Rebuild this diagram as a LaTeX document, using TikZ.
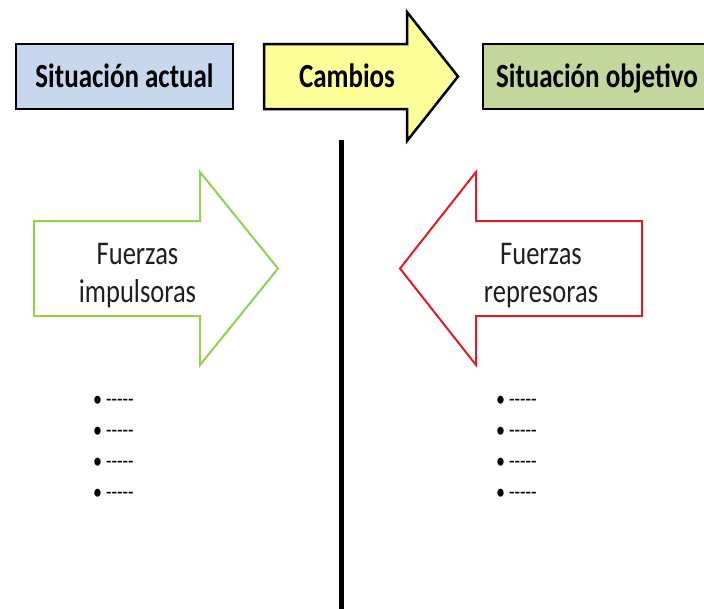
\documentclass[tikz,border=0pt]{standalone}
\usepackage{fontspec}
\usepackage{graphicx}
\setmainfont{Carlito}
\definecolor{actualfill}{HTML}{C6D7EE}
\definecolor{cambiosfill}{HTML}{FFFF99}
\definecolor{objfill}{HTML}{C3D69B}
\definecolor{impgreen}{HTML}{92D050}
\definecolor{repred}{HTML}{DD1C24}
\newcommand{\tallbox}[1]{\scalebox{1}[1.25]{#1}}
\tikzset{
  topbox/.style={draw=black, line width=2.5pt, line join=miter},
  toplabel/.style={font=\fontsize{27}{30}\selectfont\bfseries, anchor=base, inner sep=0pt},
  forcearrow/.style={line width=2pt, line join=miter, fill=white},
  forcelabel/.style={font=\fontsize{26.5}{30.4}\selectfont, inner sep=0pt, text=black!88},
  bulletrow/.style={font=\fontsize{18}{20}\selectfont, anchor=west, inner sep=0pt},
}
\begin{document}
\begin{tikzpicture}[x=1pt,y=-1pt]
\useasboundingbox (0,0) rectangle (704,608);
\begin{scope}
\clip (0,0) rectangle (704,608);
% top row
\draw[topbox, fill=actualfill] (16,44) rectangle (233,109);
\draw[topbox, fill=cambiosfill] (264,44) -- (407,44) -- (407,12) -- (458,76.5) -- (407,141) -- (407,109) -- (264,109) -- cycle;
\draw[topbox, fill=objfill] (483,44) rectangle (708,109);
\node[toplabel] (actual) at (124.5,87.5) {\tallbox{Situación actual}};
\node[toplabel] (cambios) at (347,87.5) {\tallbox{Cambios}};
\node[toplabel] (objetivo) at (597,87.5) {\tallbox{Situación objetivo}};
% divider
\coordinate (vtop) at (341,140);
\coordinate (vbot) at (341,612);
\draw[line width=5pt] (vtop) -- (vbot);
% force arrows
\draw[forcearrow, draw=impgreen] (34,221) -- (200,221) -- (200,172) -- (278,268.5) -- (200,365) -- (200,316) -- (34,316) -- cycle;
\draw[forcearrow, draw=repred] (642,221) -- (476,221) -- (476,172) -- (400,268.5) -- (476,365) -- (476,316) -- (642,316) -- cycle;
\node[forcelabel] (impulsoras) at (137.5,275.5) {\tallbox{\begin{tabular}{@{}c@{}}Fuerzas\\impulsoras\end{tabular}}};
\node[forcelabel] (represoras) at (541,275.5) {\tallbox{\begin{tabular}{@{}c@{}}Fuerzas\\represoras\end{tabular}}};
% bullet lists
\foreach \i/\yy in {1/401,2/432,3/463,4/494}{
  \node[bulletrow] (lb\i) at (93,\yy) {\tallbox{\textbullet\hspace{4pt}-{}-{}-{}-{}-}};
  \node[bulletrow] (rb\i) at (496,\yy) {\tallbox{\textbullet\hspace{4pt}-{}-{}-{}-{}-}};
}
\end{scope}
\end{tikzpicture}
\end{document}
